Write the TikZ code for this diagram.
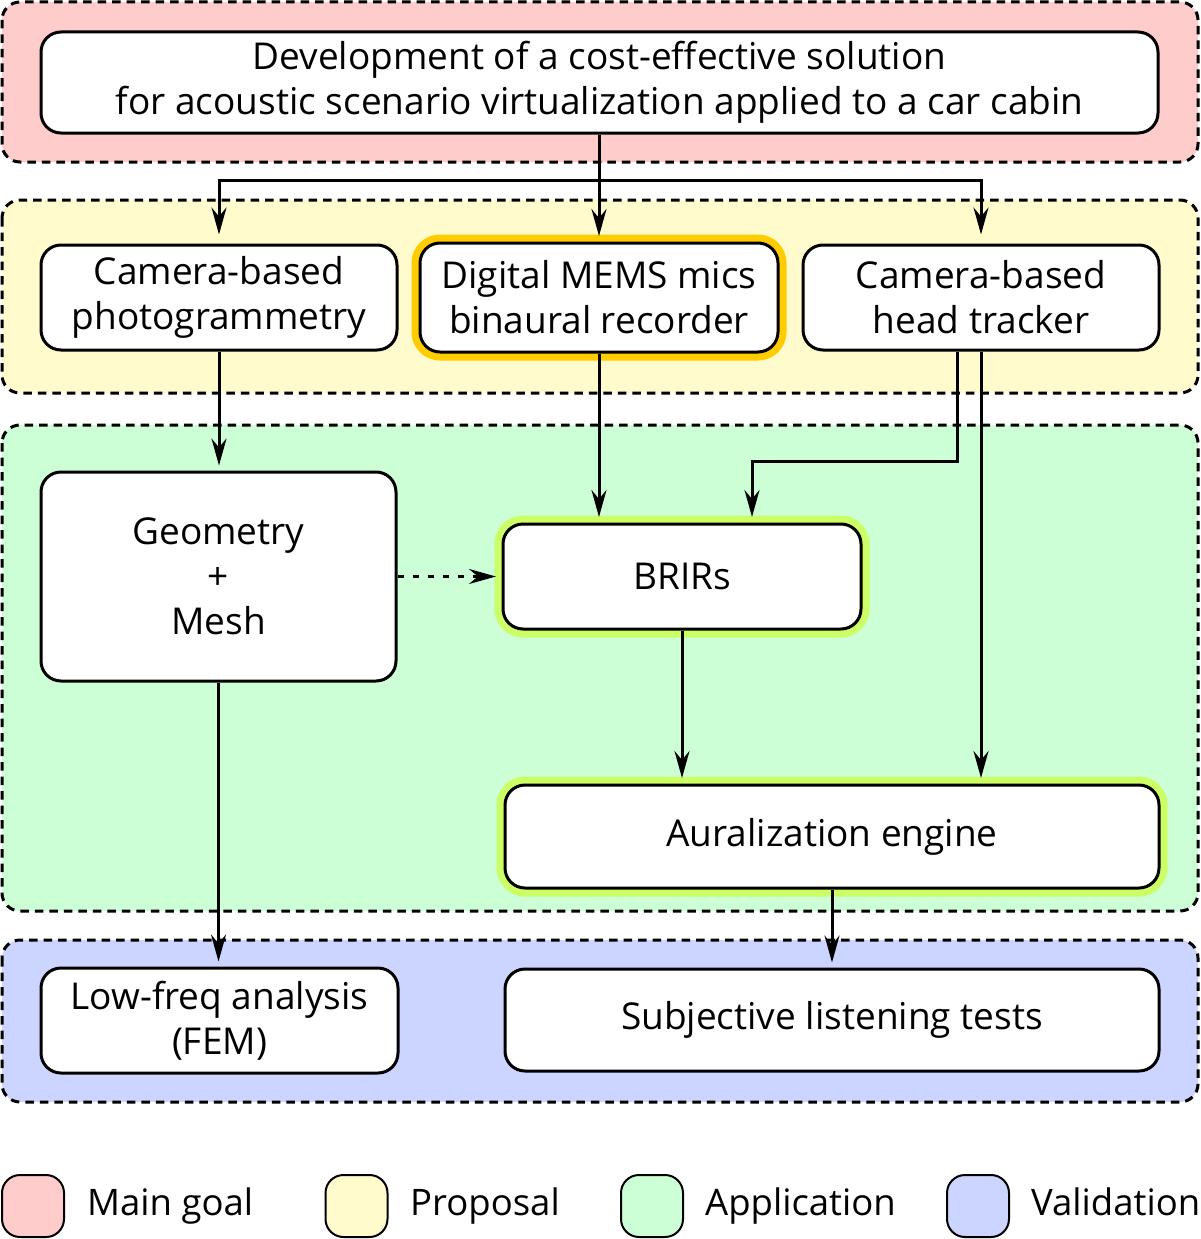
\documentclass[tikz,border=0pt]{standalone}
\usepackage{fontspec}
\setmainfont{Open Sans}
\usetikzlibrary{arrows.meta,calc}
\definecolor{cpink}{RGB}{255,204,204}
\definecolor{cyel}{RGB}{255,251,204}
\definecolor{cgreen}{RGB}{204,255,213}
\definecolor{cblue}{RGB}{204,213,255}
\definecolor{cgold}{RGB}{255,204,0}
\definecolor{clime}{RGB}{204,255,102}
\tikzset{
  grp/.style={draw=black, line width=3pt, dash pattern=on 8.5pt off 6pt, rounded corners=18pt},
  box/.style={draw=black, fill=white, line width=3pt, rounded corners=20pt, align=center,
    inner sep=0pt, font=\fontsize{37}{45}\selectfont},
  goldring/.style={preaction={draw=cgold, line width=17pt}, outer sep=2pt},
  limering/.style={preaction={draw=clime, line width=17pt}, outer sep=2pt},
  arr/.style={line width=3pt, -{Stealth[length=27pt, width=15pt, inset=9pt]}, shorten >=5pt},
  legbox/.style={draw=black, line width=2pt, rounded corners=18pt, minimum width=62pt, minimum height=62pt},
  legtxt/.style={anchor=base west, inner sep=0pt, font=\fontsize{36.5}{45}\selectfont}
}
\begin{document}
\begin{tikzpicture}[x=1pt,y=-1pt]
\useasboundingbox (0,0) rectangle (1200,1239);
% groups
\draw[grp, fill=cpink] (2,2) rectangle (1198,162);
\draw[grp, fill=cyel] (2,200) rectangle (1198,393);
\draw[grp, fill=cgreen] (2,425) rectangle (1198,911);
\draw[grp, fill=cblue] (2,940) rectangle (1198,1102);
% nodes
\node[box, minimum width=1117pt, minimum height=101pt] (main) at (599.5,82.5)
  {Development of a cost-effective solution\\for acoustic scenario virtualization applied to a car cabin};
\node[box, minimum width=356pt, minimum height=105pt] (photo) at (219,297.5) {Camera-based\\photogrammetry};
\node[box, goldring, minimum width=358pt, minimum height=109pt] (mems) at (599,297.5) {Digital MEMS mics\\binaural recorder};
\node[box, minimum width=356pt, minimum height=105pt] (tracker) at (981,297.5) {Camera-based\\head tracker};
\node[box, minimum width=355pt, minimum height=209pt] (geom) at (218.5,576.5) {Geometry\\+\\Mesh};
\node[box, limering, minimum width=358pt, minimum height=105pt] (brirs) at (682,576.5) {BRIRs};
\node[box, limering, minimum width=654pt, minimum height=103pt] (aural) at (832,836.5) {Auralization engine};
\node[box, minimum width=357pt, minimum height=105pt] (lowf) at (219.5,1020.5) {Low-freq analysis\\(FEM)};
\node[box, minimum width=654pt, minimum height=102pt] (subj) at (832,1020) {Subjective listening tests};
% connectors
\coordinate (split) at (600,180);
\coordinate (tb) at (752,461);
\draw[arr] (main.south -| mems) -- (mems);
\draw[arr, shorten >=9pt] (split -| main.south) -| (photo);
\draw[arr, shorten >=9pt] (split -| main.south) -| (tracker);
\draw[arr] (photo.south) -- (photo.south |- geom.north);
\draw[arr] (mems.south) -- (mems.south |- brirs.north);
\draw[arr] ([xshift=-24pt]tracker.south) |- (tb) -- (tb |- brirs.north);
\draw[arr] (tracker.south) -- (tracker.south |- aural.north);
\draw[arr, dash pattern=on 6pt off 9pt] (geom.east) -- (brirs.west);
\draw[arr] (brirs.south) -- (brirs.south |- aural.north);
\draw[arr] (geom.south) -- (geom.south |- lowf.north);
\draw[arr] (aural.south) -- (aural.south |- subj.north);
% legend
\node[legbox, fill=cpink] (l1) at (33,1206) {};
\node[legtxt] (t1) at (87,1215) {Main goal};
\node[legbox, fill=cyel] (l2) at (356.5,1206) {};
\node[legtxt] (t2) at (410,1215) {Proposal};
\node[legbox, fill=cgreen] (l3) at (652,1206) {};
\node[legtxt] (t3) at (705,1215) {Application};
\node[legbox, fill=cblue] (l4) at (978,1206) {};
\node[legtxt] (t4) at (1031,1215) {Validation};
\end{tikzpicture}
\end{document}
